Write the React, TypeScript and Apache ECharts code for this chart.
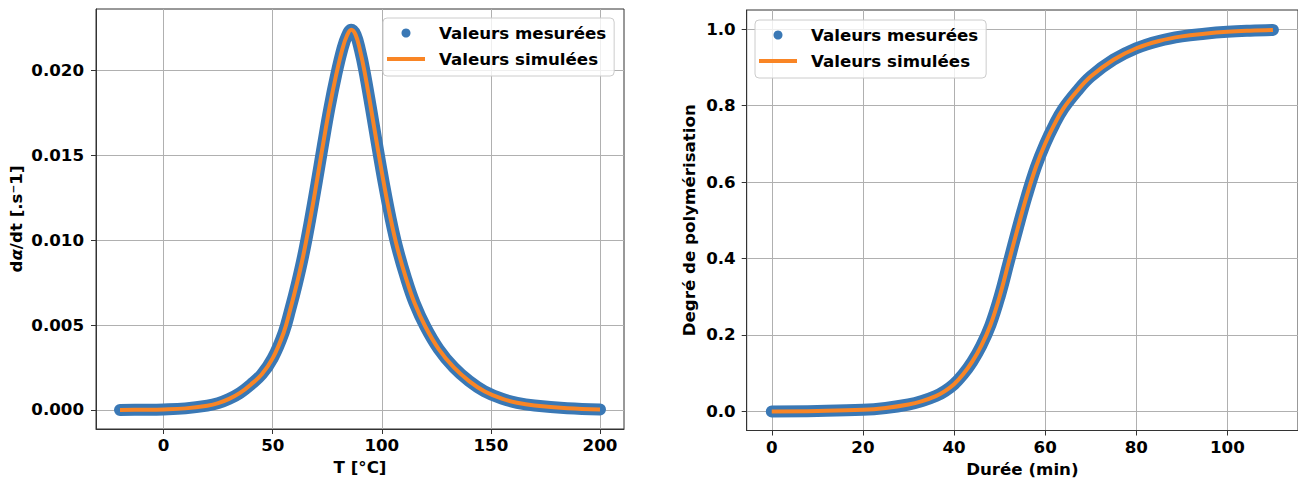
import React, { useEffect, useRef } from 'react';
import * as echarts from 'echarts';

// Left panel: reaction rate vs temperature
const tempC = [-20, -10, 0, 10, 20, 25, 30, 35, 40, 45, 50, 55, 58, 61, 64, 67, 70, 73, 76, 79, 82, 84, 86, 88, 90, 92, 95, 98, 101, 104, 107, 111, 115, 120, 126, 133, 140, 147, 155, 162, 170, 185, 200];
const rateMeasured = [0.0, 0.00001, 0.00003, 0.00009, 0.00025, 0.0004, 0.00065, 0.001, 0.0015, 0.0021, 0.00305, 0.00455, 0.0059, 0.0074, 0.0091, 0.0111, 0.0133, 0.0156, 0.0178, 0.0197, 0.0213, 0.02205, 0.0224, 0.0221, 0.0212, 0.02, 0.0178, 0.0155, 0.0133, 0.0113, 0.0096, 0.0078, 0.0063, 0.0049, 0.0036, 0.0025, 0.0017, 0.0011, 0.00066, 0.00042, 0.00026, 0.0001, 0.00003];
const rateSimulated = [0.0, 0.00001, 0.00003, 0.00009, 0.00025, 0.0004, 0.00065, 0.001, 0.0015, 0.0021, 0.00305, 0.00455, 0.0059, 0.0074, 0.0091, 0.0111, 0.0133, 0.0156, 0.0178, 0.0197, 0.0213, 0.02205, 0.0224, 0.0221, 0.0212, 0.02, 0.0178, 0.0155, 0.0133, 0.0113, 0.0096, 0.0078, 0.0063, 0.0049, 0.0036, 0.0025, 0.0017, 0.0011, 0.00066, 0.00042, 0.00026, 0.0001, 0.00003];

// Right panel: degree of polymerisation vs time
const timeMin = [0, 10, 20, 25, 30, 33, 36, 38, 40, 42, 44, 46, 48, 50, 52, 54, 56, 58, 60, 62, 64, 67, 70, 75, 80, 85, 90, 95, 100, 105, 110];
const degreeMeasured = [0, 0.001, 0.004, 0.009, 0.018, 0.027, 0.04, 0.053, 0.071, 0.097, 0.13, 0.172, 0.226, 0.3, 0.39, 0.48, 0.565, 0.64, 0.7, 0.75, 0.792, 0.838, 0.876, 0.92, 0.95, 0.969, 0.981, 0.988, 0.993, 0.996, 0.998];
const degreeSimulated = [0, 0.001, 0.004, 0.009, 0.018, 0.027, 0.04, 0.053, 0.071, 0.097, 0.13, 0.172, 0.226, 0.3, 0.39, 0.48, 0.565, 0.64, 0.7, 0.75, 0.792, 0.838, 0.876, 0.92, 0.95, 0.969, 0.981, 0.988, 0.993, 0.996, 0.998];

// Tick values
const tempTicks = [0, 50, 100, 150, 200];
const rateTicks = [0, 0.005, 0.01, 0.015, 0.02];
const timeTicks = [0, 20, 40, 60, 80, 100];
const degreeTicks = [0, 0.2, 0.4, 0.6, 0.8, 1.0];

const seriesNames = ['Valeurs mesurées', 'Valeurs simulées'];

const BLUE = '#3a78b5';
const ORANGE = '#f98525';
const FONT = 'DejaVu Sans';

const textBase = { fontFamily: FONT, fontWeight: 'bold' as const, fontSize: 16.67, color: '#000' };

function axis(gridIndex: number, min: number, max: number, ticks: number[], digits: number, name: string, nameGap: number, margin: number, extraName: any = {}) {
  return {
    type: 'value',
    gridIndex,
    min,
    max,
    name,
    nameLocation: 'middle',
    nameGap,
    nameTextStyle: { ...textBase, ...extraName },
    axisLine: { show: true, onZero: false, lineStyle: { color: '#333', width: 1 } },
    axisTick: { show: true, customValues: ticks, length: 5, lineStyle: { color: '#333', width: 1 } },
    axisLabel: { show: true, customValues: ticks, margin, ...textBase, formatter: (v: number) => v.toFixed(digits) },
    splitLine: { show: true, lineStyle: { color: '#b0b0b0', width: 1 } },
  };
}

function legend(left: number, top: number) {
  return {
    left,
    top,
    orient: 'vertical',
    padding: [5, 8, 7, 4],
    itemGap: 6,
    itemWidth: 38,
    itemHeight: 9,
    symbolKeepAspect: true,
    backgroundColor: 'rgba(255,255,255,0.8)',
    borderColor: '#cccccc',
    borderWidth: 1,
    borderRadius: 4,
    textStyle: { ...textBase, lineHeight: 20, padding: [0, 0, 0, 9] },
    data: [
      { name: seriesNames[0], icon: 'circle', itemStyle: { color: BLUE, borderWidth: 0 } },
      { name: seriesNames[1], icon: 'path://M0,0 H38 V4 H0 Z', itemStyle: { color: ORANGE, borderWidth: 0 } },
    ],
  };
}

function lineSeries(name: string, idx: number, xs: number[], ys: number[], color: string, width: number, round: boolean, z: number) {
  return {
    type: 'line',
    name,
    xAxisIndex: idx,
    yAxisIndex: idx,
    data: xs.map((x, i) => [x, ys[i]]),
    symbol: 'circle',
    showSymbol: false,
    smooth: 0.4,
    z,
    itemStyle: { color },
    lineStyle: { color, width, cap: round ? 'round' : 'butt', join: 'round' },
    emphasis: { disabled: true },
  };
}

export default function App() {
  const ref = useRef<HTMLDivElement>(null);
  useEffect(() => {
    if (!ref.current) return;
    const chart = echarts.init(ref.current, undefined, { renderer: 'svg' });
    chart.setOption({
      animation: false,
      backgroundColor: '#ffffff',
      grid: [
        { left: 96, top: 9, width: 528, height: 420, show: true, borderColor: '#333', borderWidth: 1, backgroundColor: 'transparent' },
        { left: 746.7, top: 10, width: 554.5, height: 420.5, show: true, borderColor: '#333', borderWidth: 1, backgroundColor: 'transparent' },
      ],
      xAxis: [
        axis(0, -31, 211, tempTicks, 0, 'T [°C]', 30, 8),
        axis(1, -5.5, 115.5, timeTicks, 0, 'Durée (min)', 30, 8),
      ],
      yAxis: [
        axis(0, -0.001125, 0.023625, rateTicks, 3, 'd{i|α}/dt [.s⁻1]', 71, 12, {
          rich: { i: { ...textBase, fontStyle: 'italic' } },
        }),
        axis(1, -0.05, 1.05, degreeTicks, 1, 'Degré de polymérisation', 49, 11),
      ],
      legend: [legend(383, 18), legend(755, 20)],
      series: [
        lineSeries(seriesNames[0], 0, tempC, rateMeasured, BLUE, 12, true, 2),
        lineSeries(seriesNames[1], 0, tempC, rateSimulated, ORANGE, 4, false, 3),
        lineSeries(seriesNames[0], 1, timeMin, degreeMeasured, BLUE, 12, true, 2),
        lineSeries(seriesNames[1], 1, timeMin, degreeSimulated, ORANGE, 4, false, 3),
      ],
    });
    return () => chart.dispose();
  }, []);
  return <div ref={ref} style={{ position: 'fixed', left: 0, top: 0, width: 1298, height: 484, background: '#fff' }} />;
}
